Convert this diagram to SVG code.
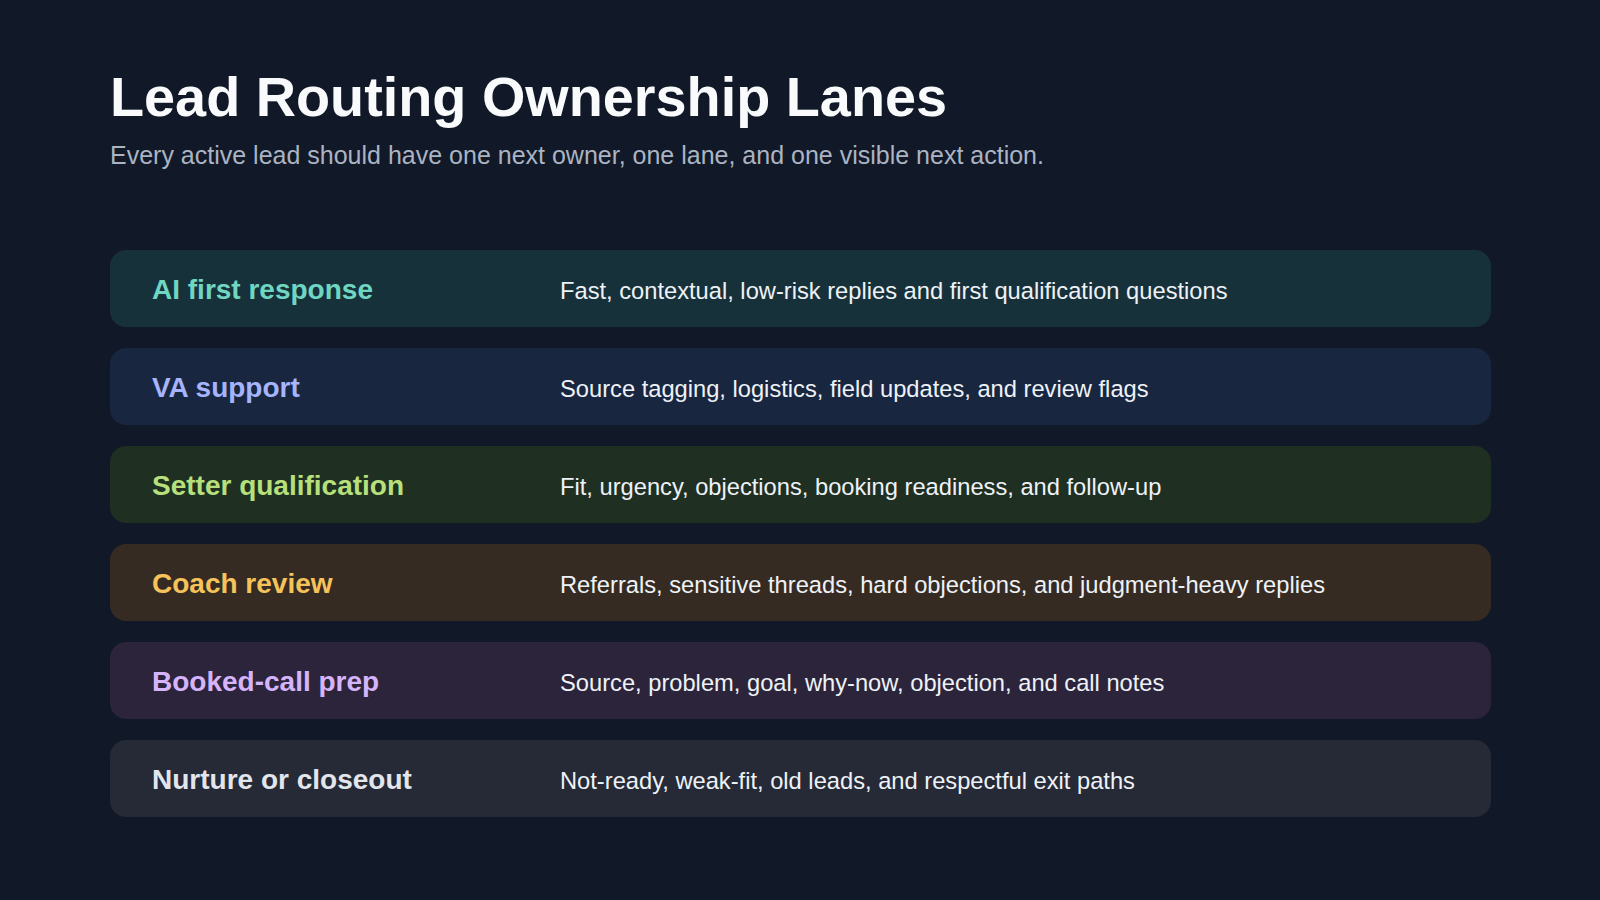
<svg xmlns="http://www.w3.org/2000/svg" width="1600" height="900" viewBox="0 0 1600 900">
<style>
.t{font-family:"Liberation Sans",Arial,sans-serif;font-weight:bold;font-size:55.8px;fill:#f8fafc}
.s{font-family:"Liberation Sans",Arial,sans-serif;font-size:25px;fill:#aab4c3}
.l{font-family:"Liberation Sans",Arial,sans-serif;font-weight:bold;font-size:28px}
.d{font-family:"Liberation Sans",Arial,sans-serif;font-size:23.7px;fill:#eef2f7}
</style>
<rect width="1600" height="900" fill="#111827"/>
<text class="t" x="110" y="116">Lead Routing Ownership Lanes</text>
<text class="s" x="110" y="164">Every active lead should have one next owner, one lane, and one visible next action.</text>
<g id="lane1"><rect x="110" y="250" width="1381" height="77" rx="16" fill="#17313a"/><text class="l" x="152" y="299" fill="#6fd6c2">AI first response</text><text class="d" x="560" y="299">Fast, contextual, low-risk replies and first qualification questions</text></g>
<g id="lane2"><rect x="110" y="348" width="1381" height="77" rx="16" fill="#182640"/><text class="l" x="152" y="397" fill="#a5b4fc">VA support</text><text class="d" x="560" y="397">Source tagging, logistics, field updates, and review flags</text></g>
<g id="lane3"><rect x="110" y="446" width="1381" height="77" rx="16" fill="#1f2f22"/><text class="l" x="152" y="495" fill="#b7e07c">Setter qualification</text><text class="d" x="560" y="495">Fit, urgency, objections, booking readiness, and follow-up</text></g>
<g id="lane4"><rect x="110" y="544" width="1381" height="77" rx="16" fill="#352b22"/><text class="l" x="152" y="593" fill="#f5c35a">Coach review</text><text class="d" x="560" y="593">Referrals, sensitive threads, hard objections, and judgment-heavy replies</text></g>
<g id="lane5"><rect x="110" y="642" width="1381" height="77" rx="16" fill="#2c243a"/><text class="l" x="152" y="691" fill="#d6b4fb">Booked-call prep</text><text class="d" x="560" y="691">Source, problem, goal, why-now, objection, and call notes</text></g>
<g id="lane6"><rect x="110" y="740" width="1381" height="77" rx="16" fill="#252a36"/><text class="l" x="152" y="789" fill="#e2e6ec">Nurture or closeout</text><text class="d" x="560" y="789">Not-ready, weak-fit, old leads, and respectful exit paths</text></g>
<g id="connectors"/>
</svg>
